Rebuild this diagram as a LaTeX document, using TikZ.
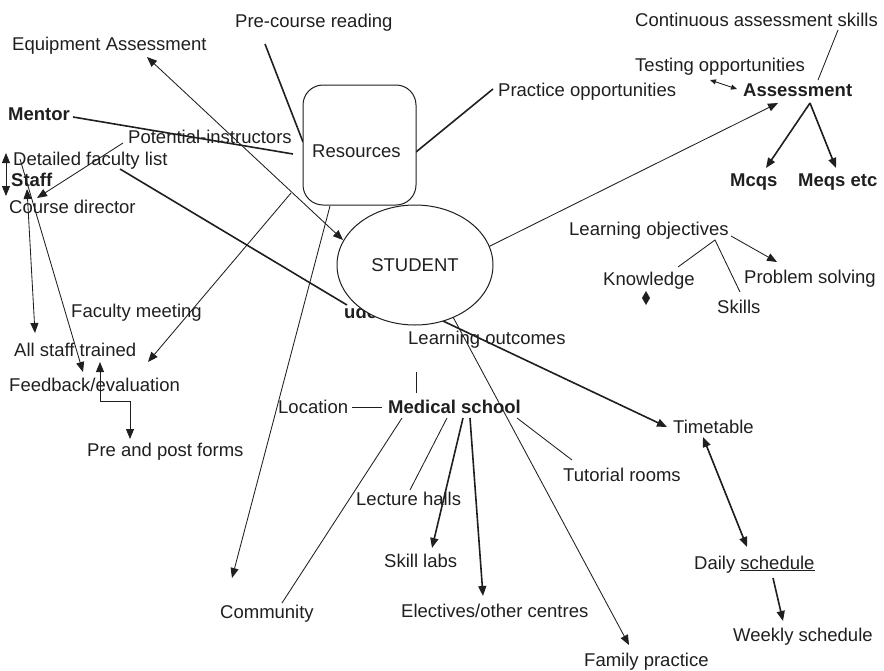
\documentclass[tikz,border=0pt]{standalone}
\usepackage{fontspec}
\setmainfont{Liberation Sans}
\usetikzlibrary{arrows.meta,shapes.geometric}
\begin{document}
\begin{tikzpicture}[x=1pt,y=-1pt,
  lbl/.style={anchor=base west,inner sep=0pt,text=black!88,font=\fontsize{18.5}{22}\selectfont},
  blbl/.style={lbl,font=\fontsize{18.5}{22}\selectfont\bfseries},
  thinln/.style={line width=0.85pt,draw=black!88},
  thickln/.style={line width=1.6pt,draw=black!88},
  tip/.style={-{Triangle[length=10pt,width=8pt]}},
  tips/.style={{Triangle[length=10pt,width=8pt]}-{Triangle[length=10pt,width=8pt]}},
  stip/.style={{Triangle[length=6pt,width=5pt]}-{Triangle[length=6pt,width=5pt]}},
]
\useasboundingbox (0,0) rectangle (884,670);

% ---- labels ----
\node[lbl] (pre)   at (235,27)  {Pre-course reading};
\node[lbl] (equip) at (12,50)   {Equipment Assessment};
\node[lbl] (cont)  at (635,26)  {Continuous assessment skills};
\node[lbl] (test)  at (635,71)  {Testing opportunities};
\node[lbl] (prac)  at (498,96)  {Practice opportunities};
\node[blbl] (assess) at (743,96) {Assessment};
\node[blbl] (mentor) at (8,120) {Mentor};
\node[lbl] (pot)   at (128,143) {Potential-instructors};
\node[lbl] (det)   at (13,165)  {Detailed faculty list};
\node[blbl] (staff) at (11,186) {Staff};
\node[lbl] (cdir)  at (9,213)   {Course director};
\node[blbl] (mcq)  at (730,186) {Mcqs};
\node[blbl] (meq)  at (798,186) {Meqs etc};
\node[lbl] (lobj)  at (569,235) {Learning objectives};
\node[lbl] (know)  at (603,285) {Knowledge};
\node[lbl] (prob)  at (744,283) {Problem solving};
\node[lbl] (skill) at (717,313) {Skills};
\node[lbl] (fac)   at (71,317)  {Faculty meeting};
\node[blbl] (ude)  at (344,318) {ude};
\node[lbl] (lout)  at (408,344) {Learning outcomes};
\node[lbl] (allst) at (14,356)  {All staff trained};
\node[lbl] (feed)  at (9,391)   {Feedback/evaluation};
\node[lbl] (loc)   at (278,413) {Location};
\node[blbl] (med)  at (388,413) {Medical school};
\node[lbl] (time)  at (673,433) {Timetable};
\node[lbl] (forms) at (87,456)  {Pre and post forms};
\node[lbl] (tut)   at (563,481) {Tutorial rooms};
\node[lbl] (lect)  at (356,505) {Lecture halls};
\node[lbl] (labs)  at (384,567) {Skill labs};
\node[lbl] (daily) at (694,569) {Daily \underline{schedule}};
\node[lbl] (elec)  at (401,617) {Electives/other centres};
\node[lbl] (comm)  at (220,618) {Community};
\node[lbl] (week)  at (733,641) {Weekly schedule};
\node[lbl] (fam)   at (584,666) {Family practice};

% ---- connector end points ----
\coordinate (eqTip) at (147,57);
\coordinate (stIn)  at (343,240);
\coordinate (preEnd) at (265,44);
\coordinate (resL)  at (303,142);
\coordinate (resR)  at (416,152);
\coordinate (pracEnd) at (493,89);
\coordinate (menA)  at (73,117);
\coordinate (menB)  at (293,154);
\coordinate (potA)  at (123,143);
\coordinate (cdTip) at (37,198);
\coordinate (stA)   at (6,153);
\coordinate (stB)   at (6,196);
\coordinate (dA)    at (20,159);
\coordinate (fbTip) at (83,372);
\coordinate (sfA)   at (27,189);
\coordinate (sfB)   at (35,333);
\coordinate (resBL) at (291,193);
\coordinate (fbTip2) at (148,362);
\coordinate (resB)  at (330,206);
\coordinate (commTip) at (232,578);
\coordinate (detA)  at (120,169);
\coordinate (udeB)  at (347,305);
\coordinate (stR)   at (480,251);
\coordinate (asTip) at (778,103);
\coordinate (tA)    at (710,80);
\coordinate (tB)    at (737,89);
\coordinate (cA)    at (838,30);
\coordinate (cB)    at (818,80);
\coordinate (asB)   at (810,103);
\coordinate (mcTip) at (766,168);
\coordinate (meTip) at (836,168);
\coordinate (lfork) at (715,240);
\coordinate (knTop) at (678,267);
\coordinate (skTop) at (740,292);
\coordinate (lpA)   at (731,236);
\coordinate (pbTip) at (777,262);
\coordinate (stB1)  at (443,321);
\coordinate (ttTip) at (667,427);
\coordinate (stB2)  at (453,317);
\coordinate (fpTip) at (629,645);
\coordinate (vA)    at (416,372);
\coordinate (vB)    at (416,393);
\coordinate (locR)  at (352,407);
\coordinate (medL)  at (382,407);
\coordinate (m1)    at (402,418);
\coordinate (commEnd) at (282,603);
\coordinate (m2)    at (447,418);
\coordinate (lectEnd) at (410,490);
\coordinate (m3)    at (463,418);
\coordinate (labTip) at (432,548);
\coordinate (m4)    at (470,418);
\coordinate (elTip) at (483,596);
\coordinate (m5)    at (517,418);
\coordinate (tutEnd) at (572,460);
\coordinate (ttB)   at (703,437);
\coordinate (dsTip) at (747,547);
\coordinate (dsB)   at (773,578);
\coordinate (wkTip) at (783,621);
\coordinate (fbUp)  at (100,362);
\coordinate (fmTip) at (130,439);

% ---- connectors ----
\draw[thinln,tips] (stIn) -- (eqTip);
\draw[thickln] (preEnd) -- (resL);
\draw[thickln] (resR) -- (pracEnd);
\draw[thickln] (menA) -- (menB);
\draw[thinln,tip] (potA) -- (cdTip);
\draw[thinln,tips] (stA) -- (stB);
\draw[thinln,tip] (dA) -- (fbTip);
\draw[thinln,tips] (sfA) -- (sfB);
\draw[thinln,tip] (resBL) -- (fbTip2);
\draw[thinln,tip] (resB) -- (commTip);
\draw[thickln] (detA) -- (udeB);
\draw[thinln,tip] (stR) -- (asTip);
\draw[thinln,stip] (tA) -- (tB);
\draw[thinln] (cA) -- (cB);
\draw[thickln,tip] (asB) -- (mcTip);
\draw[thickln,tip] (asB) -- (meTip);
\draw[thinln] (knTop) -- (lfork) -- (skTop);
\draw[thinln,tip] (lpA) -- (pbTip);
\draw[thickln,tip] (stB1) -- (ttTip);
\draw[thinln,tip] (stB2) -- (fpTip);
\draw[thinln] (vA) -- (vB);
\draw[thinln] (locR) -- (medL);
\draw[thinln] (m1) -- (commEnd);
\draw[thinln] (m2) -- (lectEnd);
\draw[thickln,tip] (m3) -- (labTip);
\draw[thickln,tip] (m4) -- (elTip);
\draw[thinln] (m5) -- (tutEnd);
\draw[thickln,tips] (ttB) -- (dsTip);
\draw[thickln,tip] (dsB) -- (wkTip);
\draw[thinln,tips] (fbUp) -- (100,401) -- (130,401) -- (fmTip);

% small double marker under Knowledge
\fill[black!88] (646,291) -- (650,298) -- (646,305) -- (642,298) -- cycle;

% ---- central shapes ----
\node[draw=black!88,line width=1pt,fill=white,rounded corners=20pt,
      minimum width=113pt,minimum height=120pt,inner sep=0pt] (resbox) at (359.5,145) {};
\node[lbl] (restext) at (312,157) {Resources};
\node[draw=black!88,line width=1pt,fill=white,ellipse,
      minimum width=156pt,minimum height=120pt,inner sep=0pt,
      text=black!88,font=\fontsize{18.5}{22}\selectfont] (student) at (415,265) {STUDENT};
\end{tikzpicture}
\end{document}
